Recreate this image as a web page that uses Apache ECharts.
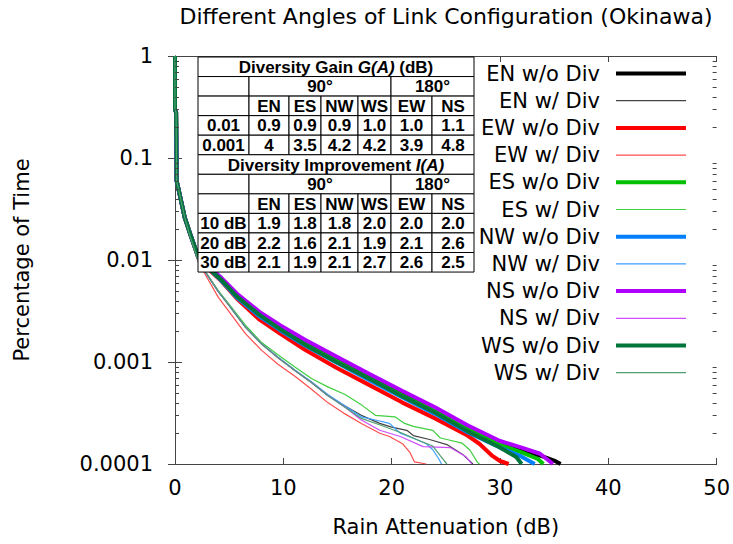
<!DOCTYPE html>
<html><head><meta charset="utf-8">
<script src="https://cdn.jsdelivr.net/npm/echarts@6/dist/echarts.min.js"></script>
<style>html,body{margin:0;padding:0;background:#fff}#c{width:733px;height:544px}</style>
</head><body><div id="c"></div>
<script>
// ---------------- data ----------------
const chartTitle = 'Different Angles of Link Configuration (Okinawa)';
const xAxisName = 'Rain Attenuation (dB)';
const yAxisName = 'Percentage of Time';
const xMin = 0, xMax = 50, xStep = 10;
const yTickLabels = ['0.0001', '0.001', '0.01', '0.1', '1'];

const seriesNames = ['EN w/o Div', 'EN w/ Div', 'EW w/o Div', 'EW w/ Div', 'ES w/o Div', 'ES w/ Div',
                     'NW w/o Div', 'NW w/ Div', 'NS w/o Div', 'NS w/ Div', 'WS w/o Div', 'WS w/ Div'];

// [rain attenuation dB, fraction of time]
const EN_woDiv = [[0,1],[0,0.3],[0.1,0.28],[0.15,0.06],[0.45,0.043],[0.9,0.026],[1.4,0.018],[2.15,0.0107],[3.0,0.0086],[4.15,0.0067],[5.7,0.0045],[7.8,0.003],[9.7,0.0022],[12,0.00155],[14.9,0.00105],[18,0.00071],[21,0.00049],[24,0.00034],[27,0.00023],[30,0.000163],[32,0.000137],[34,0.000118],[35,0.000108],[35.6,0.0001]];
const EN_wDiv = [[0,1],[0,0.3],[0.1,0.28],[0.15,0.06],[0.45,0.043],[0.9,0.026],[1.4,0.017],[2.15,0.0098],[3.07,0.0069],[4.0,0.0049],[4.9,0.0037],[6.5,0.0022],[8.0,0.0015],[9.5,0.0011],[11.1,0.00082],[12.6,0.00063],[14.1,0.00047],[15.7,0.00037],[17.2,0.0003],[18.9,0.00025],[20,0.00023],[21.4,0.000214],[22,0.00019],[23.5,0.000174],[25.1,0.000155],[26.6,0.000123],[27.5,0.0001]];
const EW_woDiv = [[0,1],[0,0.3],[0.1,0.28],[0.15,0.06],[0.45,0.043],[0.9,0.026],[1.4,0.018],[2.15,0.0105],[3.0,0.0083],[4.15,0.0064],[5.7,0.0042],[7.8,0.0026],[9.7,0.0019],[12,0.00132],[14.9,0.00088],[18,0.00059],[21,0.0004],[24,0.00028],[27,0.00019],[28.1,0.000158],[29.3,0.00012],[30,0.000107],[30.8,0.0001]];
const EW_wDiv = [[0,1],[0,0.3],[0.1,0.28],[0.15,0.06],[0.45,0.043],[0.9,0.026],[1.4,0.017],[2.15,0.0095],[3.07,0.0064],[4.0,0.0043],[4.9,0.0032],[6.5,0.0019],[8,0.0013],[9.5,0.00095],[11.1,0.00072],[12.6,0.00054],[14.1,0.0004],[15.7,0.00031],[17.2,0.00025],[18.9,0.0002],[19.8,0.000186],[21,0.000158],[21.7,0.000129],[22.1,0.000105],[23.2,0.0001]];
const ES_woDiv = [[0,1],[0,0.3],[0.1,0.28],[0.15,0.06],[0.45,0.043],[0.9,0.026],[1.4,0.018],[2.15,0.0107],[3.0,0.0085],[4.15,0.0066],[5.7,0.0044],[7.8,0.0029],[9.7,0.0021],[12,0.0015],[14.9,0.00102],[18,0.00069],[21,0.00047],[24,0.00033],[27,0.00022],[30,0.000155],[32,0.00013],[33.5,0.000112],[34,0.0001]];
const ES_wDiv = [[0,1],[0,0.3],[0.1,0.28],[0.15,0.06],[0.45,0.043],[0.9,0.026],[1.4,0.017],[2.15,0.0099],[3.07,0.007],[4.0,0.005],[4.9,0.0038],[6.5,0.0023],[8,0.00155],[9.5,0.00118],[11.1,0.00089],[12.6,0.00069],[14.1,0.00057],[15.7,0.00048],[17.2,0.00038],[18.5,0.0003],[20.3,0.00029],[21.2,0.00025],[22,0.000234],[23.8,0.000214],[24.5,0.00018],[25.1,0.000174],[26.5,0.00016],[27.2,0.000138],[27.9,0.000105],[28.1,0.0001]];
const NW_woDiv = [[0,1],[0,0.3],[0.1,0.28],[0.15,0.06],[0.45,0.043],[0.9,0.026],[1.4,0.018],[2.15,0.0106],[3.0,0.0085],[4.15,0.0065],[5.7,0.0043],[7.8,0.0028],[9.7,0.00205],[12,0.00145],[14.9,0.00099],[18,0.00066],[21,0.00045],[24,0.00031],[27,0.000205],[30,0.000145],[32,0.000118],[33.2,0.0001]];
const NW_wDiv = [[0,1],[0,0.3],[0.1,0.28],[0.15,0.06],[0.45,0.043],[0.9,0.026],[1.4,0.017],[2.15,0.0098],[3.07,0.0069],[4.0,0.0049],[4.9,0.0037],[6.5,0.0022],[8.0,0.0015],[9.5,0.00112],[11.1,0.00083],[12.6,0.00064],[14.1,0.00048],[15.7,0.00037],[17.2,0.00029],[18.5,0.00027],[19.8,0.00025],[20.8,0.0002],[22.3,0.000174],[23.2,0.000158],[23.8,0.000138],[24.4,0.00011],[24.6,0.0001]];
const NS_woDiv = [[0,1],[0,0.3],[0.1,0.28],[0.15,0.06],[0.45,0.043],[0.9,0.026],[1.4,0.018],[2.15,0.0108],[3.0,0.0088],[4.15,0.0069],[5.7,0.0047],[7.8,0.0031],[9.7,0.0023],[12,0.00165],[14.9,0.00113],[18,0.00076],[21,0.00052],[24,0.00036],[27,0.00024],[30,0.000168],[32,0.000145],[33.7,0.000126],[34.9,0.0001]];
const NS_wDiv = [[0,1],[0,0.3],[0.1,0.28],[0.15,0.06],[0.45,0.043],[0.9,0.026],[1.4,0.017],[2.15,0.0098],[3.07,0.0069],[4.0,0.0049],[4.9,0.0037],[6.5,0.0022],[8.0,0.0015],[9.5,0.00111],[11.1,0.00082],[12.6,0.00063],[14.1,0.00047],[15.7,0.00036],[17.2,0.00027],[18.9,0.000214],[20.8,0.000186],[22.9,0.000148],[25.4,0.000145],[26.9,0.000117],[27.4,0.0001]];
const WS_woDiv = [[0,1],[0,0.3],[0.1,0.28],[0.15,0.06],[0.45,0.043],[0.9,0.026],[1.4,0.018],[2.15,0.0107],[3.0,0.0085],[4.15,0.0066],[5.7,0.0044],[7.8,0.0029],[9.7,0.0021],[12,0.00148],[14.9,0.001],[18,0.00068],[21,0.00046],[24,0.00032],[27,0.00021],[30,0.000145],[31.5,0.000117],[32,0.0001]];
const WS_wDiv = [[0,1],[0,0.3],[0.1,0.28],[0.15,0.06],[0.45,0.043],[0.9,0.026],[1.4,0.017],[2.15,0.0098],[3.07,0.0069],[4.0,0.0049],[4.9,0.0037],[6.5,0.0022],[8.0,0.0015],[9.5,0.00111],[11.1,0.00082],[12.6,0.00063],[14.1,0.00047],[15.7,0.00036],[17.2,0.00028],[19,0.00024],[21,0.0002],[22.5,0.00017],[23.8,0.00015],[24.5,0.00012],[25.1,0.0001]];

// inset table
const tableGainTitle = ['Diversity Gain ', 'G(A)', ' (dB)'];
const tableImprovementTitle = ['Diversity Improvement ', 'I(A)'];
const angleGroups = ['90°', '180°'];
const directions = ['EN', 'ES', 'NW', 'WS', 'EW', 'NS'];
const gainRowLabels = ['0.01', '0.001'];
const gainValues = [['0.9', '0.9', '0.9', '1.0', '1.0', '1.1'],
                    ['4', '3.5', '4.2', '4.2', '3.9', '4.8']];
const improvementRowLabels = ['10 dB', '20 dB', '30 dB'];
const improvementValues = [['1.9', '1.8', '1.8', '2.0', '2.0', '2.0'],
                           ['2.2', '1.6', '2.1', '1.9', '2.1', '2.6'],
                           ['2.1', '1.9', '2.1', '2.7', '2.6', '2.5']];

// ---------------- style ----------------
const seriesData = [EN_woDiv, EN_wDiv, EW_woDiv, EW_wDiv, ES_woDiv, ES_wDiv, NW_woDiv, NW_wDiv, NS_woDiv, NS_wDiv, WS_woDiv, WS_wDiv];
const seriesColors = ['#000000', '#444444', '#ff0000', '#ff4d4d', '#00c000', '#3fcf3f', '#0080ff', '#3d9eff', '#b000ff', '#cf4dff', '#00753a', '#4f9e72'];
const FONT = '"DejaVu Sans", sans-serif';
const TFONT = '"Liberation Sans", Arial, sans-serif';
const AXIS_COLOR = '#444';

const chart = echarts.init(document.getElementById('c'), null, { renderer: 'svg' });

const series = seriesNames.map((name, i) => ({
  name: name,
  type: 'line',
  data: seriesData[i],
  symbol: 'none',
  smooth: false,
  xAxisIndex: 0,
  yAxisIndex: 0,
  lineStyle: { color: seriesColors[i], width: i % 2 === 0 ? 4 : 1.2 },
  itemStyle: { color: seriesColors[i] },
  emphasis: { disabled: true },
  animation: false
}));

const option = {
  animation: false,
  title: {
    text: chartTitle, left: 446, top: 5, textAlign: 'center', padding: 0,
    textStyle: { fontSize: 22, fontWeight: 'normal', fontFamily: FONT, color: '#000' }
  },
  grid: { left: 175, right: 16, top: 56, bottom: 80, containLabel: false },
  legend: {
    orient: 'vertical', right: 45, top: 63, align: 'right', padding: 0,
    itemWidth: 70, itemHeight: 14, itemGap: 6.2,
    lineStyle: { width: 'inherit' },
    itemStyle: { opacity: 0, borderWidth: 0 },
    textStyle: { fontSize: 21, fontFamily: FONT, color: '#000', lineHeight: 20, padding: [0, 11, 0, 0] },
    data: seriesNames,
    selectedMode: false
  },
  xAxis: [{
    type: 'value', min: xMin, max: xMax, interval: xStep, position: 'bottom',
    name: xAxisName, nameLocation: 'middle', nameGap: 52,
    nameTextStyle: { fontSize: 21, fontFamily: FONT, color: '#000' },
    axisLine: { lineStyle: { color: AXIS_COLOR, width: 1 } },
    axisTick: { inside: true, length: 6, lineStyle: { color: AXIS_COLOR } },
    axisLabel: { fontSize: 21, fontFamily: FONT, color: '#000', margin: 13 },
    splitLine: { show: false }
  }, {
    type: 'value', min: xMin, max: xMax, interval: xStep, position: 'top',
    axisLine: { lineStyle: { color: AXIS_COLOR, width: 1 } },
    axisTick: { inside: true, length: 6, lineStyle: { color: AXIS_COLOR } },
    axisLabel: { show: false }, splitLine: { show: false }
  }],
  yAxis: [{
    type: 'log', logBase: 10, min: 0.0001, max: 1, position: 'left',
    name: yAxisName, nameLocation: 'middle', nameGap: 143,
    nameTextStyle: { fontSize: 21, fontFamily: FONT, color: '#000' },
    axisLine: { lineStyle: { color: AXIS_COLOR, width: 1 } },
    axisTick: { inside: true, length: 7, lineStyle: { color: AXIS_COLOR } },
    axisLabel: {
      fontSize: 21, fontFamily: FONT, color: '#000', margin: 22,
      formatter: v => yTickLabels[Math.round(Math.log10(v)) + 4]
    },
    splitLine: { show: false }
  }, {
    type: 'log', logBase: 10, min: 0.0001, max: 1, position: 'right',
    axisLine: { lineStyle: { color: AXIS_COLOR, width: 1 } },
    axisTick: { inside: true, length: 7, lineStyle: { color: AXIS_COLOR } },
    axisLabel: { show: false }, splitLine: { show: false }
  }],
  series: series
};
chart.setOption(option);

// ---------- graphics: minor log ticks and inset table ----------
const graphics = [];
const xl = chart.convertToPixel({ xAxisIndex: 0 }, xMin);
const xr = chart.convertToPixel({ xAxisIndex: 0 }, xMax);
for (let d = -4; d < 0; d++) {
  for (let k = 2; k <= 9; k++) {
    const py = Math.round(chart.convertToPixel({ yAxisIndex: 0 }, k * Math.pow(10, d))) + 0.5;
    graphics.push({ type: 'line', shape: { x1: xl, y1: py, x2: xl + 4, y2: py }, style: { stroke: AXIS_COLOR, lineWidth: 1 }, z: 50, silent: true });
    graphics.push({ type: 'line', shape: { x1: xr, y1: py, x2: xr - 4, y2: py }, style: { stroke: AXIS_COLOR, lineWidth: 1 }, z: 50, silent: true });
  }
}

// table layout
const colX = [198, 249, 289, 321, 358, 391, 432, 474];
const rowTop = 57, rowH = 19.55;
const cellStyle = { fill: '#fff', stroke: '#000', lineWidth: 1 };
const txtBold = { fontSize: 17, fontWeight: 'bold', fontFamily: TFONT, fill: '#000' };
function cell(c0, c1, r, content, rich) {
  const x = colX[c0], w = colX[c1] - colX[c0], y = rowTop + r * rowH;
  graphics.push({ type: 'rect', shape: { x: x, y: y, width: w, height: rowH }, style: cellStyle, z: 100, silent: true });
  if (content) {
    const st = Object.assign({}, txtBold, {
      text: content, x: x + w / 2, y: y + rowH / 2 + 0.5,
      align: 'center', verticalAlign: 'middle', textAlign: 'center', textVerticalAlign: 'middle'
    });
    if (rich) st.rich = rich;
    graphics.push({ type: 'text', style: st, z: 101, silent: true });
  }
}
const richTitle = {
  b: { fontSize: 17, fontWeight: 'bold', fontFamily: TFONT, fill: '#000', color: '#000' },
  i: { fontSize: 17, fontWeight: 'bold', fontStyle: 'italic', fontFamily: TFONT, fill: '#000', color: '#000' }
};
function headerBlock(r0, titleParts) {
  const t = titleParts.map((p, i) => (i % 2 === 0 ? '{b|' : '{i|') + p + '}').join('');
  cell(0, 7, r0, t, richTitle);
  cell(0, 1, r0 + 1, '');
  cell(1, 5, r0 + 1, angleGroups[0]);
  cell(5, 7, r0 + 1, angleGroups[1]);
  cell(0, 1, r0 + 2, '');
  directions.forEach((d, j) => cell(j + 1, j + 2, r0 + 2, d));
}
headerBlock(0, tableGainTitle);
gainRowLabels.forEach((lab, i) => {
  cell(0, 1, 3 + i, lab);
  gainValues[i].forEach((v, j) => cell(j + 1, j + 2, 3 + i, v));
});
headerBlock(5, tableImprovementTitle);
improvementRowLabels.forEach((lab, i) => {
  cell(0, 1, 8 + i, lab);
  improvementValues[i].forEach((v, j) => cell(j + 1, j + 2, 8 + i, v));
});

chart.setOption({ graphic: graphics });
</script>
</body></html>
